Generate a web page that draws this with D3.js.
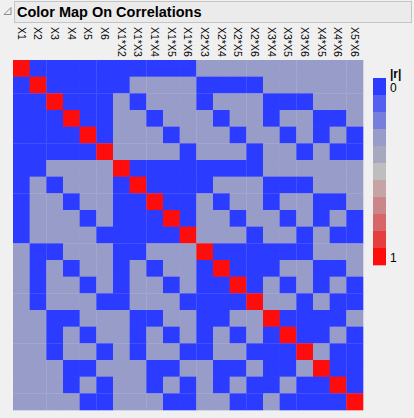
<!DOCTYPE html>
<html>
<head>
<meta charset="utf-8">
<script src="https://cdn.jsdelivr.net/npm/d3@7"></script>
<style>
    body { margin: 0; background: #f0f0f0; }
    svg { display: block; font-family: "Liberation Sans", Arial, sans-serif; }
</style>
</head>
<body>
<svg id="chart"></svg>
<script>
const terms = ["X1", "X2", "X3", "X4", "X5", "X6",
    "X1*X2", "X1*X3", "X1*X4", "X1*X5", "X1*X6",
    "X2*X3", "X2*X4", "X2*X5", "X2*X6",
    "X3*X4", "X3*X5", "X3*X6",
    "X4*X5", "X4*X6", "X5*X6"];

// |r| between terms (0 = blue, ~0.33 = grey-blue, 1 = red)
const absCorr = [
    [1, 0, 0, 0, 0, 0, 0, 0, 0, 0, 0, .33, .33, .33, .33, .33, .33, .33, .33, .33, .33],
    [0, 1, 0, 0, 0, 0, 0, .33, .33, .33, .33, 0, 0, 0, 0, .33, .33, .33, .33, .33, .33],
    [0, 0, 1, 0, 0, 0, .33, 0, .33, .33, .33, 0, .33, .33, .33, 0, 0, 0, .33, .33, .33],
    [0, 0, 0, 1, 0, 0, .33, .33, 0, .33, .33, .33, 0, .33, .33, 0, .33, .33, 0, 0, .33],
    [0, 0, 0, 0, 1, 0, .33, .33, .33, 0, .33, .33, .33, 0, .33, .33, 0, .33, 0, .33, 0],
    [0, 0, 0, 0, 0, 1, .33, .33, .33, .33, 0, .33, .33, .33, 0, .33, .33, 0, .33, 0, 0],
    [0, 0, .33, .33, .33, .33, 1, 0, 0, 0, 0, 0, 0, 0, 0, .33, .33, .33, .33, .33, .33],
    [0, .33, 0, .33, .33, .33, 0, 1, 0, 0, 0, 0, .33, .33, .33, 0, 0, 0, .33, .33, .33],
    [0, .33, .33, 0, .33, .33, 0, 0, 1, 0, 0, .33, 0, .33, .33, 0, .33, .33, 0, 0, .33],
    [0, .33, .33, .33, 0, .33, 0, 0, 0, 1, 0, .33, .33, 0, .33, .33, 0, .33, 0, .33, 0],
    [0, .33, .33, .33, .33, 0, 0, 0, 0, 0, 1, .33, .33, .33, 0, .33, .33, 0, .33, 0, 0],
    [.33, 0, 0, .33, .33, .33, 0, 0, .33, .33, .33, 1, 0, 0, 0, 0, 0, 0, .33, .33, .33],
    [.33, 0, .33, 0, .33, .33, 0, .33, 0, .33, .33, 0, 1, 0, 0, 0, .33, .33, 0, 0, .33],
    [.33, 0, .33, .33, 0, .33, 0, .33, .33, 0, .33, 0, 0, 1, 0, .33, 0, .33, 0, .33, 0],
    [.33, 0, .33, .33, .33, 0, 0, .33, .33, .33, 0, 0, 0, 0, 1, .33, .33, 0, .33, 0, 0],
    [.33, .33, 0, 0, .33, .33, .33, 0, 0, .33, .33, 0, 0, .33, .33, 1, 0, 0, 0, 0, .33],
    [.33, .33, 0, .33, 0, .33, .33, 0, .33, 0, .33, 0, .33, 0, .33, 0, 1, 0, 0, .33, 0],
    [.33, .33, 0, .33, .33, 0, .33, 0, .33, .33, 0, 0, .33, .33, 0, 0, 0, 1, .33, 0, 0],
    [.33, .33, .33, 0, 0, .33, .33, .33, 0, 0, .33, .33, 0, 0, .33, 0, 0, .33, 1, 0, 0],
    [.33, .33, .33, 0, .33, 0, .33, .33, 0, .33, 0, .33, 0, .33, 0, 0, .33, 0, 0, 1, 0],
    [.33, .33, .33, .33, 0, 0, .33, .33, .33, 0, 0, .33, .33, 0, 0, .33, 0, 0, 0, 0, 1]
];

const legendColors = ["#2b3bff", "#5360f0", "#7680dc", "#989cc9", "#a6a8bf", "#bebebe",
    "#c6a4a6", "#cb8689", "#d66668", "#e63e3f", "#ff0d0d"];
const legendTicks = ["0", "1"];
const title = "Color Map On Correlations";

const width = 414, height = 418;
const grid = {left: 13, top: 60, size: 350};
const legend = {x: 373, top: 78, width: 13, height: 187};

const svg = d3.select("#chart")
    .attr("width", width)
    .attr("height", height);

// title bar
svg.append("rect")
    .attr("x", 14.5).attr("y", 1.5)
    .attr("width", 397).attr("height", 21)
    .attr("fill", "#ebebeb")
    .attr("stroke", "#c4c4c4");

svg.append("path")
    .attr("d", "M11,7.5 L11,14.5 L4,14.5 Z")
    .attr("fill", "none")
    .attr("stroke", "#8a8a8a");

svg.append("text")
    .attr("x", 17)
    .attr("y", 17)
    .style("font-size", "14.5px")
    .style("font-weight", "bold")
    .style("fill", "black")
    .text(title);

const xScale = d3.scaleBand().domain(terms).range([grid.left, grid.left + grid.size]);
const yScale = d3.scaleBand().domain(terms).range([grid.top, grid.top + grid.size]);
const color = d3.scaleQuantize().domain([-0.05, 1.05]).range(legendColors);

const cells = [];
absCorr.forEach((row, i) => row.forEach((v, j) => cells.push({row: terms[i], col: terms[j], value: v})));

svg.append("g")
    .selectAll("rect")
    .data(cells)
    .enter()
    .append("rect")
    .attr("x", d => xScale(d.col))
    .attr("y", d => yScale(d.row))
    .attr("width", xScale.bandwidth() + 0.3)
    .attr("height", yScale.bandwidth() + 0.3)
    .attr("fill", d => color(d.value));

// column labels, rotated to read downwards
svg.append("g")
    .selectAll("text")
    .data(terms)
    .enter()
    .append("text")
    .attr("transform", d => `translate(${xScale(d) + xScale.bandwidth() / 2}, 27) rotate(90)`)
    .attr("dy", "0.35em")
    .style("font-size", "10.5px")
    .style("fill", "black")
    .text(d => d);

// legend
const legendScale = d3.scaleBand()
    .domain(d3.range(legendColors.length))
    .range([legend.top, legend.top + legend.height]);

svg.append("g")
    .selectAll("rect")
    .data(legendColors)
    .enter()
    .append("rect")
    .attr("x", legend.x)
    .attr("y", (d, i) => legendScale(i))
    .attr("width", legend.width)
    .attr("height", legendScale.bandwidth() + 0.3)
    .attr("fill", d => d);

svg.append("text")
    .attr("x", 390)
    .attr("y", 78)
    .style("font-size", "12px")
    .style("font-weight", "bold")
    .text("|r|");

svg.append("g")
    .selectAll("text")
    .data(legendTicks)
    .enter()
    .append("text")
    .attr("x", 390)
    .attr("y", (d, i) => i === 0 ? 91.5 : 262)
    .style("font-size", "12px")
    .text(d => d);
</script>
</body>
</html>
